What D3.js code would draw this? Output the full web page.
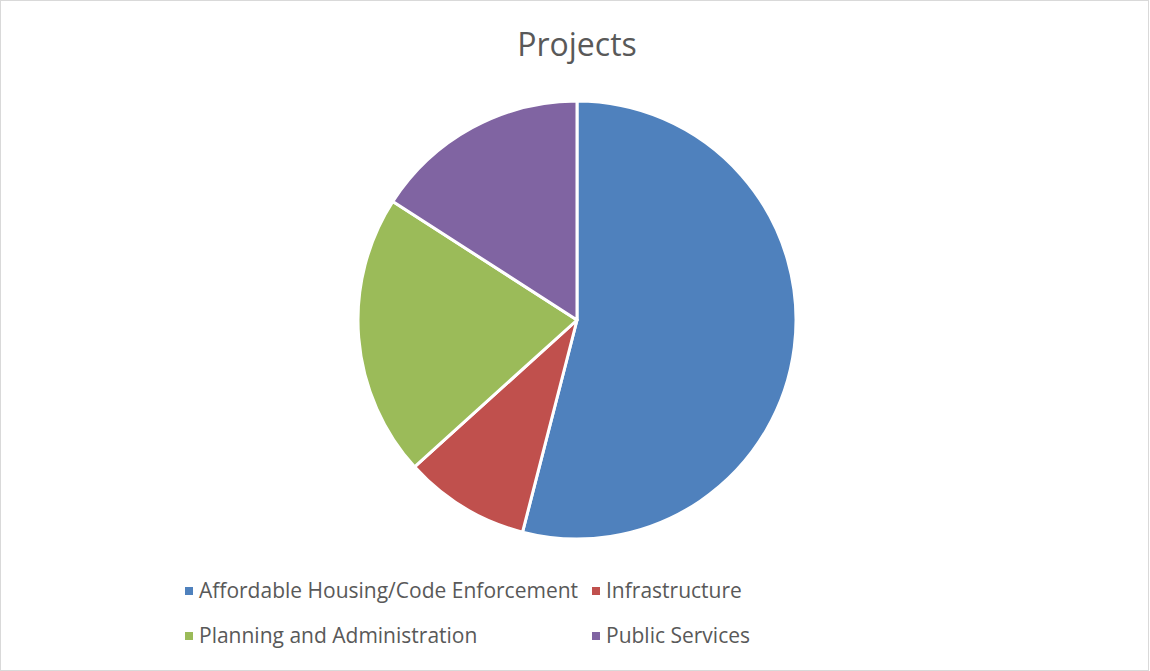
<!DOCTYPE html>
<html>
<head>
  <meta charset="utf-8">
  <script src="https://d3js.org/d3.v7.min.js"></script>
  <style>
    body { margin: 0; background: white; }
    svg { font-family: "Open Sans", sans-serif; }
    .title { fill: #595959; font-size: 32px; }
    .legend text { fill: #595959; font-size: 21px; }
  </style>
</head>
<body>
<div id="chart"></div>
<script>
  // data (share of projects, %)
  const categories = ["Affordable Housing/Code Enforcement", "Infrastructure", "Planning and Administration", "Public Services"];
  const values = [54.0, 9.3, 20.8, 15.9];
  const colors = ["#4F81BD", "#C0504D", "#9BBB59", "#8064A2"];

  const width = 1150, height = 671;
  const cx = 577, cy = 320, radius = 219;

  const svg = d3.select("#chart").append("svg")
    .attr("width", width)
    .attr("height", height);

  svg.append("rect")
    .attr("x", 0.5).attr("y", 0.5)
    .attr("width", width - 2).attr("height", height - 1)
    .attr("fill", "white")
    .attr("stroke", "#d9d9d9");

  svg.append("text")
    .attr("class", "title")
    .attr("x", 577).attr("y", 56)
    .attr("text-anchor", "middle")
    .text("Projects");

  const pie = d3.pie().sort(null).value(d => d);
  const arc = d3.arc().innerRadius(0).outerRadius(radius);

  svg.append("g")
    .attr("transform", `translate(${cx},${cy})`)
    .selectAll("path")
    .data(pie(values))
    .join("path")
    .attr("d", arc)
    .attr("fill", (d, i) => colors[i])
    .attr("stroke", "white")
    .attr("stroke-width", 3)
    .attr("stroke-linejoin", "round");

  // legend, 2 columns
  const colX = [185, 592];
  const rowY = [591, 636];
  const legend = svg.append("g").attr("class", "legend");
  const items = legend.selectAll("g")
    .data(categories)
    .join("g")
    .attr("transform", (d, i) => `translate(${colX[i % 2]},${rowY[Math.floor(i / 2)]})`);

  items.append("rect")
    .attr("x", 0).attr("y", -4)
    .attr("width", 8).attr("height", 8)
    .attr("fill", (d, i) => colors[i]);

  items.append("text")
    .attr("x", 14).attr("y", 0)
    .attr("dy", "0.35em")
    .text(d => d);
</script>
</body>
</html>
